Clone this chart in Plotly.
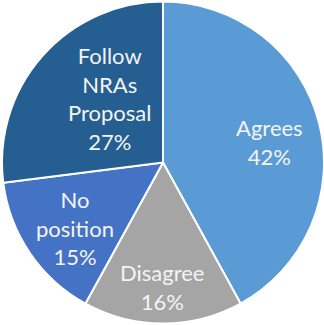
import math
import plotly.graph_objects as go

labels = ["Agrees", "Disagree", "No position", "Follow NRAs Proposal"]
display_labels = ["Agrees", "Disagree", "No<br>position", "Follow<br>NRAs<br>Proposal"]
values = [42, 16, 15, 27]
colors = ["#5B9BD5", "#A5A5A5", "#4472C4", "#255E91"]

# label placement inside each slice: fraction of radius and angular nudge (degrees)
label_radius = [0.676, 0.776, 0.68, 0.516]
label_nudge = [3.8, 0.5, -2.3, 9.0]

W, H = 324, 325
ML, MR, MT, MB = 2, 0, 1, 1
pw, ph = W - ML - MR, H - MT - MB
cx, cy = ML + pw / 2, MT + ph / 2
R = min(pw, ph) / 2

fig = go.Figure(
    go.Pie(
        labels=labels,
        values=values,
        sort=False,
        direction="clockwise",
        rotation=0,
        marker=dict(colors=colors, line=dict(color="white", width=2)),
        textinfo="none",
        hoverinfo="label+percent",
        showlegend=False,
    )
)

total = sum(values)
start = 0.0
for name, v, rf, nudge in zip(display_labels, values, label_radius, label_nudge):
    mid = start + v / total * 360 / 2 + nudge
    start += v / total * 360
    px = cx + rf * R * math.sin(math.radians(mid))
    py = cy - rf * R * math.cos(math.radians(mid))
    pct = round(v / total * 100)
    fig.add_annotation(
        x=(px - ML) / pw,
        y=1 - (py - MT) / ph,
        xref="paper",
        yref="paper",
        text=f"{name}<br>{pct}%",
        showarrow=False,
        xanchor="center",
        yanchor="middle",
        align="center",
        font=dict(family="Lato, Calibri, sans-serif", size=22, color="#F4F4F4"),
    )

fig.update_layout(
    width=W,
    height=H,
    margin=dict(l=ML, r=MR, t=MT, b=MB),
    paper_bgcolor="white",
    plot_bgcolor="white",
)

fig.write_html("out.html")
